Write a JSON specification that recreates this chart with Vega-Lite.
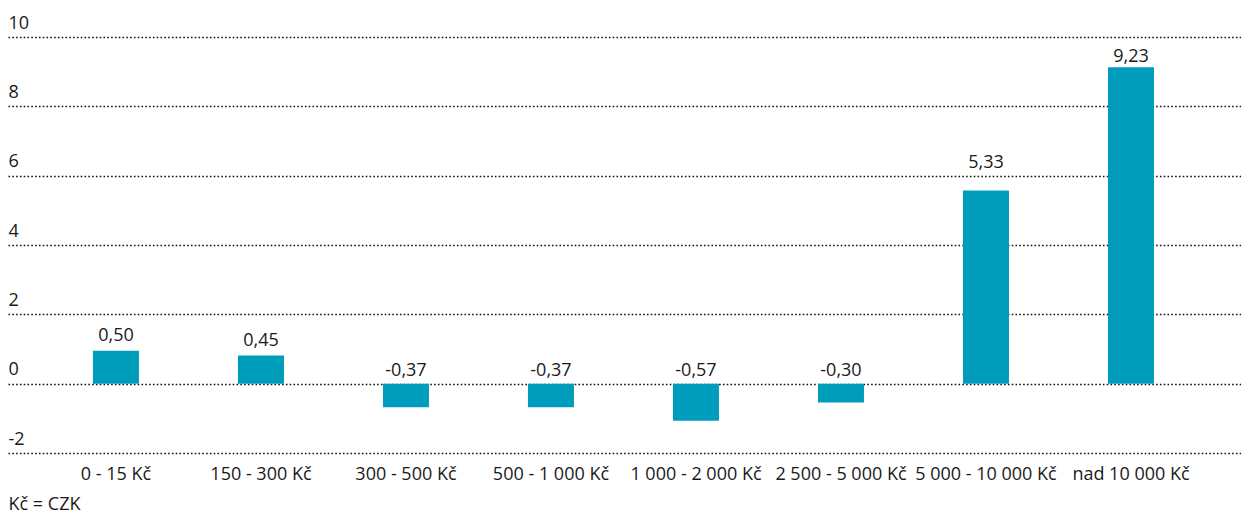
{
  "$schema": "https://vega.github.io/schema/vega-lite/v6.json",
  "width": 1233,
  "height": 416,
  "autosize": {"type": "none"},
  "padding": {"left": 8, "top": 37, "right": 0, "bottom": 62},
  "background": "white",
  "config": {
    "view": {"stroke": null},
    "font": "Open Sans",
    "text": {"font": "Open Sans", "fontSize": 18, "color": "#1a1a1a"}
  },
  "data": {
    "values": [
      {"kategorie": "0 - 15 Kč", "hodnota": 0.95, "popisek": "0,50"},
      {"kategorie": "150 - 300 Kč", "hodnota": 0.81, "popisek": "0,45"},
      {"kategorie": "300 - 500 Kč", "hodnota": -0.68, "popisek": "-0,37"},
      {"kategorie": "500 - 1 000 Kč", "hodnota": -0.68, "popisek": "-0,37"},
      {"kategorie": "1 000 - 2 000 Kč", "hodnota": -1.07, "popisek": "-0,57"},
      {"kategorie": "2 500 - 5 000 Kč", "hodnota": -0.54, "popisek": "-0,30"},
      {"kategorie": "5 000 - 10 000 Kč", "hodnota": 5.57, "popisek": "5,33"},
      {"kategorie": "nad 10 000 Kč", "hodnota": 9.13, "popisek": "9,23"}
    ]
  },
  "encoding": {
    "x": {
      "field": "kategorie",
      "type": "nominal",
      "sort": null,
      "scale": {"paddingInner": 0.6828, "paddingOuter": 0.593, "align": 0.494},
      "axis": {
        "title": "Kč = CZK",
        "titleAnchor": "start",
        "titleAlign": "left",
        "titleBaseline": "alphabetic",
        "titleX": 0,
        "titleY": 56,
        "titleFont": "Open Sans",
        "titleFontSize": 18,
        "titleFontWeight": "normal",
        "titleColor": "#1a1a1a",
        "labelAngle": 0,
        "labelFont": "Open Sans",
        "labelFontSize": 18,
        "labelColor": "#1a1a1a",
        "labelBaseline": "alphabetic",
        "labelPadding": 26,
        "ticks": false,
        "tickSize": 0,
        "domain": false,
        "grid": false
      }
    }
  },
  "layer": [
    {
      "mark": {"type": "bar", "color": "#009cbb"},
      "encoding": {
        "y": {
          "field": "hodnota",
          "type": "quantitative",
          "scale": {"domain": [-2, 10], "nice": false, "zero": true},
          "axis": {
            "title": null,
            "values": [-2, 0, 2, 4, 6, 8, 10],
            "labelExpr": "'' + datum.value",
            "labelAlign": "left",
            "labelBaseline": "alphabetic",
            "labelPadding": 0,
            "labelOffset": -9,
            "labelFont": "Open Sans",
            "labelFontSize": 18,
            "labelColor": "#1a1a1a",
            "ticks": false,
            "tickSize": 0,
            "domain": false,
            "grid": true,
            "gridColor": "#111111",
            "gridDash": [1.6, 2.2],
            "gridWidth": 1.6
          }
        }
      }
    },
    {
      "transform": [{"filter": "datum.hodnota >= 0 && datum.hodnota < 5"}],
      "mark": {"type": "text", "baseline": "alphabetic", "dy": -10},
      "encoding": {
        "y": {"field": "hodnota", "type": "quantitative"},
        "text": {"field": "popisek"}
      }
    },
    {
      "transform": [{"filter": "datum.hodnota >= 5 && datum.hodnota < 9"}],
      "mark": {"type": "text", "baseline": "alphabetic", "dy": -23},
      "encoding": {
        "y": {"field": "hodnota", "type": "quantitative"},
        "text": {"field": "popisek"}
      }
    },
    {
      "transform": [{"filter": "datum.hodnota >= 9"}],
      "mark": {"type": "text", "baseline": "alphabetic", "dy": -5},
      "encoding": {
        "y": {"field": "hodnota", "type": "quantitative"},
        "text": {"field": "popisek"}
      }
    },
    {
      "transform": [{"filter": "datum.hodnota < 0"}],
      "mark": {"type": "text", "baseline": "alphabetic", "dy": -8},
      "encoding": {
        "y": {"datum": 0, "type": "quantitative"},
        "text": {"field": "popisek"}
      }
    }
  ]
}
